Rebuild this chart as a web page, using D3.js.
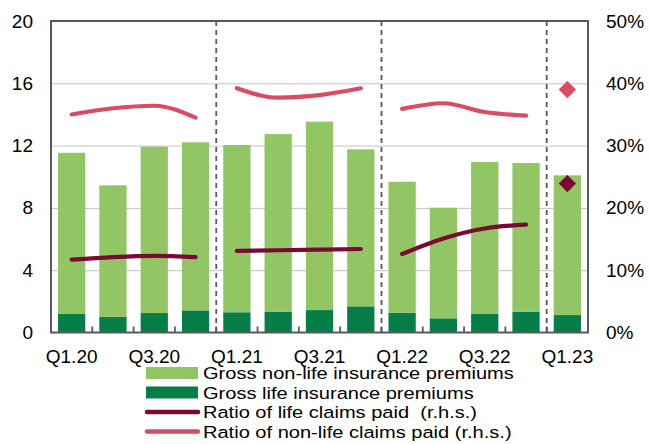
<!DOCTYPE html>
<html>
<head>
<meta charset="utf-8">
<script src="https://cdn.jsdelivr.net/npm/d3@7"></script>
<style>
  body { margin: 0; background: #fff; }
  svg { display: block; font-family: "Liberation Sans", Arial, sans-serif; }
  .legend text { white-space: pre; }
</style>
</head>
<body>
<svg id="chart" width="649" height="444"></svg>
<script>
"use strict";

/***************** DATA ******************/
var quarters = ["Q1.20", "Q2.20", "Q3.20", "Q4.20",
                "Q1.21", "Q2.21", "Q3.21", "Q4.21",
                "Q1.22", "Q2.22", "Q3.22", "Q4.22",
                "Q1.23"];
var tickLabels = ["Q1.20", "Q3.20", "Q1.21", "Q3.21", "Q1.22", "Q3.22", "Q1.23"];

// EUR bn, l.h.s. (stacked: life at the bottom)
var lifePremiums    = [1.21, 1.00, 1.25, 1.42, 1.30, 1.32, 1.44, 1.68, 1.27, 0.91, 1.21, 1.32, 1.12];
var nonLifePremiums = [10.33, 8.45, 10.68, 10.79, 10.74, 11.42, 12.10, 10.08, 8.41, 7.10, 9.74, 9.56, 8.97];

// % , r.h.s.
var lifeClaimsRatio    = [11.7, 12.1, 12.3, 12.1, 13.1, 13.2, 13.3, 13.4, 12.6, 15.1, 16.7, 17.3, 23.9];
var nonLifeClaimsRatio = [35.0, 36.0, 36.4, 34.5, 39.2, 37.7, 38.1, 39.2, 35.9, 36.8, 35.4, 34.8, 39.0];

var leftTicks  = [0, 4, 8, 12, 16, 20];
var rightTicks = [0, 10, 20, 30, 40, 50];

var colors = {
  nonLife: "#92c665",
  life: "#077e47",
  lifeRatio: "#7a0a33",
  nonLifeRatio: "#dd4a63",
  frame: "#595959",
  grid: "#c4c4c4"
};

/***************** LAYOUT ******************/
var box = { left: 51, right: 588, top: 21, bottom: 332.5 };
var svg = d3.select("#chart");

var x = d3.scaleBand()
  .domain(quarters)
  .range([box.left, box.right])
  .paddingInner(0.34)
  .paddingOuter(0.17);
var yL = d3.scaleLinear().domain([0, 20]).range([box.bottom, box.top]);
var yR = d3.scaleLinear().domain([0, 50]).range([box.bottom, box.top]);

var gap = x.step() * x.paddingInner();
function boundary(q) { return x(q) + x.bandwidth() + gap / 2; }
function mid(q) { return x(q) + x.bandwidth() / 2; }

// gridlines (left axis)
svg.append("g")
  .attr("transform", "translate(" + box.left + ",0)")
  .call(d3.axisLeft(yL).tickValues(leftTicks.slice(1, -1))
    .tickSize(-(box.right - box.left)).tickFormat(""))
  .call(function(g) {
    g.select(".domain").remove();
    g.selectAll("line").attr("stroke", colors.grid).attr("stroke-width", 1);
  });

/***************** BARS ******************/
var rows = quarters.map(function(q, i) {
  return { q: q, life: lifePremiums[i], nonLife: nonLifePremiums[i] };
});
var stacked = d3.stack().keys(["life", "nonLife"])(rows);

svg.append("g").selectAll("g")
  .data(stacked)
  .enter().append("g")
    .attr("fill", function(d) { return colors[d.key]; })
  .selectAll("rect")
  .data(function(d) { return d; })
  .enter().append("rect")
    .attr("x", function(d) { return x(d.data.q); })
    .attr("width", x.bandwidth())
    .attr("y", function(d) { return yL(d[1]); })
    .attr("height", function(d) { return yL(d[0]) - yL(d[1]); });

// dashed separators between years
var yearEnds = quarters.filter(function(q, i) {
  return i < quarters.length - 1 && q.indexOf("Q4") === 0;
});
svg.append("g").selectAll("line")
  .data(yearEnds)
  .enter().append("line")
    .attr("x1", boundary).attr("x2", boundary)
    .attr("y1", box.top).attr("y2", box.bottom)
    .attr("stroke", colors.frame)
    .attr("stroke-width", 1.8)
    .attr("stroke-dasharray", "5,4");

/***************** RATIO LINES ******************/
// one segment per year, a lone point (Q1.23) becomes a diamond
function byYear(values) {
  var groups = d3.groups(quarters.map(function(q, i) { return { q: q, v: values[i] }; }),
    function(d) { return d.q.split(".")[1]; });
  return groups.map(function(g) { return g[1]; });
}

var line = d3.line()
  .x(function(d) { return mid(d.q); })
  .y(function(d) { return yR(d.v); })
  .curve(d3.curveMonotoneX);

[["nonLifeRatio", nonLifeClaimsRatio], ["lifeRatio", lifeClaimsRatio]].forEach(function(s) {
  var segs = byYear(s[1]);
  var g = svg.append("g");
  g.selectAll("path.seg")
    .data(segs.filter(function(d) { return d.length > 1; }))
    .enter().append("path")
      .attr("class", "seg")
      .attr("d", line)
      .attr("fill", "none")
      .attr("stroke", colors[s[0]])
      .attr("stroke-width", 4.2)
      .attr("stroke-linecap", "round")
      .attr("stroke-linejoin", "round");
  g.selectAll("path.pt")
    .data(segs.filter(function(d) { return d.length === 1; }))
    .enter().append("path")
      .attr("class", "pt")
      .attr("d", d3.symbol().type(d3.symbolDiamond2).size(190))
      .attr("transform", function(d) {
        return "translate(" + mid(d[0].q) + "," + yR(d[0].v) + ")";
      })
      .attr("fill", colors[s[0]]);
});

/***************** FRAME + AXES ******************/
svg.append("rect")
  .attr("x", box.left).attr("y", box.top)
  .attr("width", box.right - box.left).attr("height", box.bottom - box.top)
  .attr("fill", "none")
  .attr("stroke", colors.frame)
  .attr("stroke-width", 2);

// inward ticks between quarters
svg.append("g").selectAll("line")
  .data(quarters.slice(0, -1))
  .enter().append("line")
    .attr("x1", boundary).attr("x2", boundary)
    .attr("y1", box.bottom).attr("y2", box.bottom - 6)
    .attr("stroke", colors.frame)
    .attr("stroke-width", 1.8);

function styleText(g) {
  g.select(".domain").remove();
  g.selectAll("text").attr("font-size", 19).attr("fill", "#000")
    .attr("font-family", "'Liberation Sans', Arial, sans-serif");
}

svg.append("g")
  .attr("transform", "translate(0," + box.bottom + ")")
  .call(d3.axisBottom(x).tickValues(tickLabels).tickSize(0).tickPadding(17))
  .call(styleText);

svg.append("g")
  .attr("transform", "translate(" + box.left + ",0)")
  .call(d3.axisLeft(yL).tickValues(leftTicks).tickSize(0).tickPadding(18))
  .call(styleText);

svg.append("g")
  .attr("transform", "translate(" + box.right + ",0)")
  .call(d3.axisRight(yR).tickValues(rightTicks).tickSize(0).tickPadding(18)
    .tickFormat(function(d) { return d + "%"; }))
  .call(styleText);

/***************** LEGEND ******************/
var legendItems = [
  { label: "Gross non-life insurance premiums", key: "nonLife", type: "rect" },
  { label: "Gross life insurance premiums", key: "life", type: "rect" },
  { label: "Ratio of life claims paid  (r.h.s.)", key: "lifeRatio", type: "line" },
  { label: "Ratio of non-life claims paid (r.h.s.)", key: "nonLifeRatio", type: "line" }
];

var legend = svg.append("g").attr("class", "legend").attr("transform", "translate(146,373)");
var item = legend.selectAll("g")
  .data(legendItems)
  .enter().append("g")
    .attr("transform", function(d, i) { return "translate(0," + (i * 19.5) + ")"; });

item.filter(function(d) { return d.type === "rect"; })
  .append("rect")
    .attr("x", 0).attr("y", -6).attr("width", 52).attr("height", 12)
    .attr("fill", function(d) { return colors[d.key]; });

item.filter(function(d) { return d.type === "line"; })
  .append("line")
    .attr("x1", 1).attr("x2", 52).attr("y1", 0).attr("y2", 0)
    .attr("stroke", function(d) { return colors[d.key]; })
    .attr("stroke-width", 4.5)
    .attr("stroke-linecap", "round");

// source text looks horizontally stretched, hence the scale
item.append("text")
  .attr("transform", "translate(57,6) scale(1.18,1)")
  .attr("font-size", 17)
  .attr("fill", "#000")
  .text(function(d) { return d.label; });
</script>
</body>
</html>
